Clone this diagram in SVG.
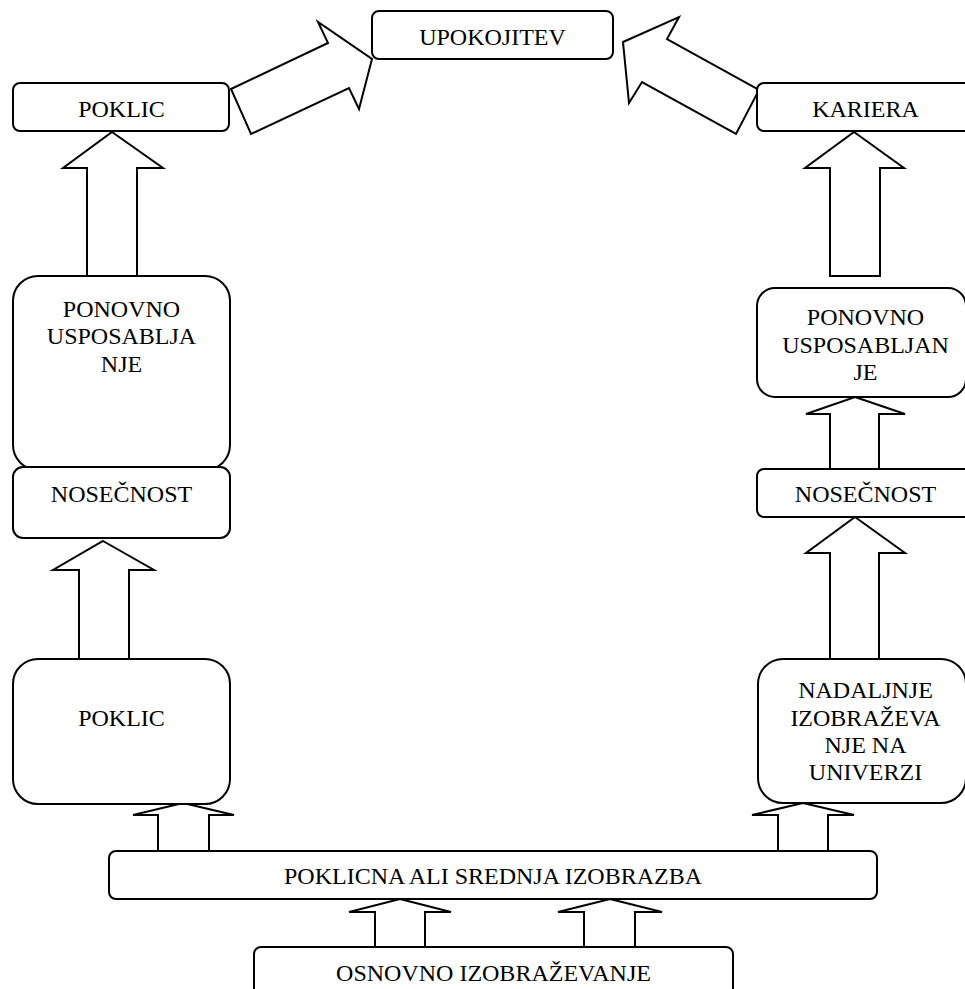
<svg xmlns="http://www.w3.org/2000/svg" width="965" height="989" viewBox="0 0 965 989">
<style>
.box{fill:#fff;stroke:#000;stroke-width:2}
.arr{fill:#fff;stroke:#000;stroke-width:2;stroke-linejoin:miter}
text{font-family:"Liberation Serif","Times New Roman",serif;font-size:24px;fill:#000;text-anchor:middle}
</style>
<rect width="965" height="989" fill="#fff"/>
<g id="connectors">
<polygon class="arr" points="231,89 328,43 318,22 372,59 359,109 349,88 251,134"/>
<polygon class="arr" points="623,42 679,17 667,39 759,90 736,134 642,82 629,103"/>
<polygon class="arr" points="112,132 163,168 137,168 137,276 87,276 87,168 63,168"/>
<polygon class="arr" points="854,132 904,168 880,168 880,276 830,276 830,168 805,168"/>
<polygon class="arr" points="103,541 154,570 129,570 129,660 79,660 79,570 53,570"/>
<polygon class="arr" points="855,397 905,414 879,414 879,469 830,469 830,414 806,414"/>
<polygon class="arr" points="855,517 905,553 879,553 879,659 830,659 830,553 806,553"/>
<polygon class="arr" points="183,803 234,815 209,815 209,851 158,851 158,815 133,815"/>
<polygon class="arr" points="803,803 854,815 828,815 828,851 778,851 778,815 752,815"/>
<polygon class="arr" points="400,899 451,912 425,912 425,947 375,947 375,912 349,912"/>
<polygon class="arr" points="610,899 662,912 635,912 635,947 584,947 584,912 558,912"/>
</g>
<g id="upokojitev"><rect class="box" x="372" y="11" width="241" height="48" rx="7"/><text x="492.5" y="45">UPOKOJITEV</text></g>
<g id="poklic-top"><rect class="box" x="13" y="83" width="216" height="48" rx="7"/><text x="121.5" y="117">POKLIC</text></g>
<g id="kariera"><rect class="box" x="757" y="83" width="218" height="48" rx="7"/><text x="865.5" y="117">KARIERA</text></g>
<g id="ponovno-left"><rect class="box" x="13" y="276" width="217" height="194" rx="25"/><text x="121.5" y="317">PONOVNO</text><text x="121.5" y="344">USPOSABLJA</text><text x="121.5" y="372">NJE</text></g>
<g id="nosecnost-left"><rect class="box" x="13" y="467" width="217" height="71" rx="10"/><text x="121.5" y="502">NOSEČNOST</text></g>
<g id="ponovno-right"><rect class="box" x="757" y="288" width="209" height="109" rx="18"/><text x="865.5" y="325">PONOVNO</text><text x="865.5" y="353">USPOSABLJAN</text><text x="865.5" y="380">JE</text></g>
<g id="nosecnost-right"><rect class="box" x="757" y="469" width="218" height="48" rx="7"/><text x="865.5" y="502">NOSEČNOST</text></g>
<g id="poklic-bottom"><rect class="box" x="13" y="659" width="217" height="145" rx="25"/><text x="121.5" y="726">POKLIC</text></g>
<g id="nadaljnje"><rect class="box" x="758" y="659" width="208" height="144" rx="25"/><text x="865.5" y="698">NADALJNJE</text><text x="865.5" y="726">IZOBRAŽEVA</text><text x="865.5" y="753">NJE NA</text><text x="865.5" y="780">UNIVERZI</text></g>
<g id="poklicna"><rect class="box" x="109" y="851" width="768" height="48" rx="7"/><text x="493" y="884">POKLICNA ALI SREDNJA IZOBRAZBA</text></g>
<g id="osnovno"><rect class="box" x="254" y="947" width="479" height="60" rx="7"/><text x="493.5" y="981">OSNOVNO IZOBRAŽEVANJE</text></g>
</svg>
